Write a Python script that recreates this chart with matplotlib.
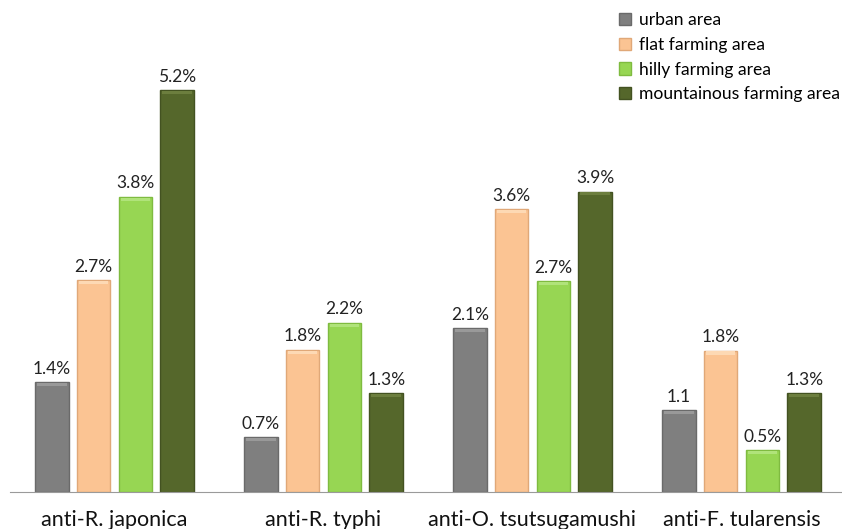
import numpy as np
import matplotlib
matplotlib.use('Agg')
import matplotlib.pyplot as plt

plt.rcParams['font.family'] = ['Lato', 'DejaVu Sans']

categories = ['anti-R. japonica', 'anti-R. typhi', 'anti-O. tsutsugamushi', 'anti-F. tularensis']
series = ['urban area', 'flat farming area', 'hilly farming area', 'mountainous farming area']
# bar heights (labels are the rounded values)
urban = [1.42, 0.71, 2.12, 1.06]
flat = [2.74, 1.84, 3.66, 1.83]
hilly = [3.82, 2.19, 2.73, 0.54]
mountain = [5.2, 1.28, 3.89, 1.28]
urban_labels = ['1.4%', '0.7%', '2.1%', '1.1']
flat_labels = ['2.7%', '1.8%', '3.6%', '1.8%']
hilly_labels = ['3.8%', '2.2%', '2.7%', '0.5%']
mountain_labels = ['5.2%', '1.3%', '3.9%', '1.3%']

colors = ['#7f7f7f', '#fbc493', '#97d653', '#55672b']
edges = ['#6a6a6a', '#e0a878', '#7fbb40', '#435221']
tops = ['#999999', '#fdd9b4', '#b0e37a', '#6c7e3e']

fig = plt.figure(figsize=(8.42, 5.29), dpi=100)
ax = fig.add_axes([10/842, 37/529, 836/842, 492/529])

x = np.arange(len(categories))
width = 0.16
vals = [urban, flat, hilly, mountain]
labs = [urban_labels, flat_labels, hilly_labels, mountain_labels]
for i in range(4):
    pos = x + (i - 1.5) * 0.2
    bars = ax.bar(pos, vals[i], width, color=colors[i], edgecolor=edges[i],
                  linewidth=1, label=series[i])
    # soft bevel along the top of each bar
    ax.bar(pos, [0.04] * 4, width * 0.88, bottom=np.array(vals[i]) - 0.05,
           color=tops[i], linewidth=0)
    ax.bar_label(bars, labels=labs[i], padding=4, fontsize=12.5, color='#222222')

ax.set_xlim(-0.5, 3.5)
ax.set_ylim(0, 6.37)
ax.set_xticks(x)
ax.set_xticklabels(categories, fontsize=15.5, color='#111111')
ax.tick_params(axis='x', length=0, pad=13)
ax.set_yticks([])
for s in ['top', 'left', 'right']:
    ax.spines[s].set_visible(False)
ax.spines['bottom'].set_color('#9a9a9a')

fig.legend(loc='upper left', bbox_to_anchor=(612/842, 1 - 5/529), frameon=False,
           fontsize=12.6, handlelength=0.7, handleheight=0.7, handletextpad=0.45,
           labelspacing=0.5, borderaxespad=0)

fig.savefig('out.png', dpi=100)
